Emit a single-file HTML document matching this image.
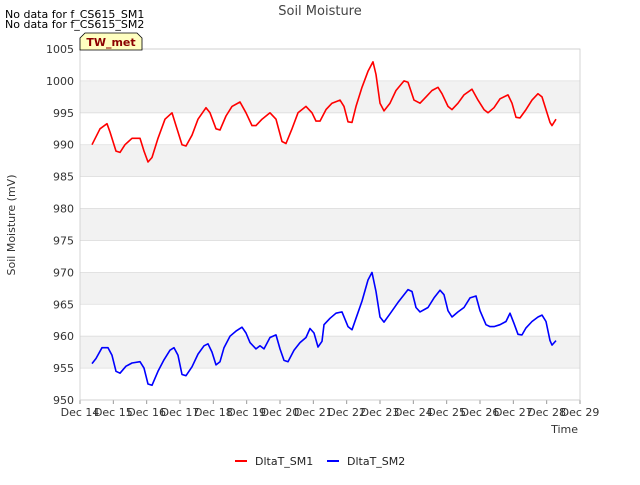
<!DOCTYPE html>
<html><head><meta charset="utf-8"><style>
body{margin:0;background:#fff;font-family:"Liberation Sans",sans-serif;}
svg text{font-family:"DejaVu Sans","Liberation Sans",sans-serif;}
</style></head><body>
<svg id="c" width="640" height="480" xmlns="http://www.w3.org/2000/svg">
<text x="320" y="15" text-anchor="middle" font-size="13" fill="#444">Soil Moisture</text>
<text x="5" y="18" font-size="11" fill="#000">No data for f_CS615_SM1</text>
<text x="5" y="28" font-size="11" fill="#000">No data for f_CS615_SM2</text>
<g id="plot"></g>
<path d="M80,50 L80,38 L85,33 L137,33 L142,38 L142,50 Z" fill="#ffffc0" stroke="#000" stroke-width="0.8"/>
<text x="111" y="46" text-anchor="middle" font-size="11" font-weight="bold" fill="#8b0000">TW_met</text>
<text x="15" y="225" text-anchor="middle" font-size="11" fill="#333" transform="rotate(-90 15 225)">Soil Moisture (mV)</text>
<text x="578" y="433" text-anchor="end" font-size="11" fill="#333">Time</text>
<g>
<line x1="235" y1="461" x2="247" y2="461" stroke="#f00" stroke-width="2"/>
<text x="255" y="465" font-size="11" fill="#222">DltaT_SM1</text>
<line x1="327" y1="461" x2="339" y2="461" stroke="#00f" stroke-width="2"/>
<text x="347" y="465" font-size="11" fill="#222">DltaT_SM2</text>
</g>
</svg>
<script>
const xTickLabels=["Dec 14","Dec 15","Dec 16","Dec 17","Dec 18","Dec 19","Dec 20","Dec 21","Dec 22","Dec 23","Dec 24","Dec 25","Dec 26","Dec 27","Dec 28","Dec 29"];
const yTicks=[950,955,960,965,970,975,980,985,990,995,1000,1005];
const sm1Days=[14.36,14.6,14.81,14.9,15.08,15.2,15.35,15.56,15.8,15.92,16.04,16.16,16.34,16.55,16.76,16.88,17.06,17.18,17.36,17.54,17.78,17.9,18.08,18.2,18.38,18.56,18.8,18.98,19.16,19.28,19.46,19.7,19.88,20.06,20.18,20.36,20.54,20.78,20.96,21.08,21.2,21.38,21.56,21.8,21.92,22.04,22.16,22.28,22.46,22.64,22.79,22.88,23.0,23.12,23.3,23.48,23.72,23.84,24.02,24.2,24.38,24.56,24.74,24.86,25.04,25.16,25.34,25.52,25.76,25.94,26.12,26.24,26.42,26.6,26.84,26.96,27.08,27.2,27.38,27.56,27.74,27.86,27.98,28.1,28.16,28.28];
const sm1Vals=[990,992.5,993.3,992,989,988.8,990,991,991,989,987.3,988,991,994,995,993,990,989.8,991.5,994,995.8,995,992.5,992.3,994.5,996,996.7,995,993,993,994,995,994,990.5,990.2,992.5,995,996,995,993.7,993.7,995.5,996.5,997,996,993.6,993.5,996,999,1001.5,1003,1001,996.5,995.3,996.5,998.5,1000,999.8,997,996.5,997.5,998.5,999,998,996,995.5,996.5,997.8,998.7,997,995.5,995,995.8,997.2,997.8,996.5,994.3,994.2,995.5,997,998,997.5,995.5,993.5,993,994];
const sm2Days=[14.36,14.48,14.66,14.84,14.96,15.08,15.2,15.38,15.56,15.8,15.92,16.04,16.16,16.34,16.52,16.7,16.82,16.94,17.06,17.18,17.36,17.54,17.72,17.84,17.96,18.08,18.2,18.32,18.5,18.68,18.86,18.98,19.1,19.28,19.4,19.52,19.7,19.88,20.0,20.12,20.24,20.42,20.6,20.78,20.9,21.02,21.14,21.26,21.32,21.5,21.68,21.86,22.04,22.16,22.28,22.46,22.64,22.76,22.88,23.0,23.12,23.3,23.54,23.72,23.84,23.96,24.08,24.2,24.44,24.62,24.8,24.92,25.04,25.16,25.34,25.52,25.7,25.88,26.0,26.18,26.3,26.42,26.6,26.78,26.9,27.02,27.14,27.26,27.38,27.56,27.74,27.86,27.98,28.1,28.16,28.28];
const sm2Vals=[955.7,956.5,958.2,958.2,957,954.5,954.2,955.3,955.8,956,955,952.5,952.3,954.5,956.3,957.8,958.2,957,954,953.8,955.2,957.2,958.5,958.8,957.5,955.5,956,958.2,960,960.8,961.4,960.5,959,958,958.5,958,959.8,960.2,958,956.2,956,957.8,959,959.8,961.2,960.5,958.3,959.2,961.8,962.8,963.6,963.8,961.5,961,962.8,965.5,968.8,970,967,963,962.2,963.5,965.3,966.5,967.3,967,964.5,963.8,964.5,966,967.2,966.5,964,963,963.8,964.5,966,966.3,964,961.8,961.5,961.5,961.8,962.3,963.6,962,960.3,960.2,961.3,962.3,963,963.3,962.3,959.3,958.6,959.3];
const L=80,R=580,T=49,B=400,D0=14,D1=29,V0=950,V1=1005;
const xs=d=>L+(d-D0)/(D1-D0)*(R-L);
const ys=v=>B-(v-V0)/(V1-V0)*(B-T);
const NS="http://www.w3.org/2000/svg";
const g=document.getElementById('plot');
function mk(t,a){const e=document.createElementNS(NS,t);for(const k in a)e.setAttribute(k,a[k]);g.appendChild(e);return e;}
for(let i=0;i<yTicks.length-1;i++){
  if(i%2===1){const r=mk('rect',{x:L,y:ys(yTicks[i+1]),width:R-L,height:ys(yTicks[i])-ys(yTicks[i+1]),fill:'#f2f2f2'});
  
  }
}
yTicks.forEach(v=>{
  const l=mk('line',{x1:L,x2:R,y1:ys(v),y2:ys(v),stroke:'#ddd','stroke-width':0.8});
  
  
  const t=mk('text',{x:L-6,y:ys(v)+4,'text-anchor':'end','font-size':11,fill:'#333'});
  t.textContent=v;
  
  
});
xTickLabels.forEach((s,i)=>{
  const x=xs(D0+i);
  const tk=mk('line',{x1:x,x2:x,y1:B,y2:B+4,stroke:'#999'});
  
  
  const t=mk('text',{x:x,y:B+16,'text-anchor':'middle','font-size':11,fill:'#333'});
  t.textContent=s;
  
  
});
const fr=mk('rect',{x:L,y:T,width:R-L,height:B-T,fill:'none',stroke:'#ccc','stroke-width':0.8});


function line(ds,vs,c,n){
  const p=mk('polyline',{points:ds.map((d,i)=>xs(d).toFixed(1)+','+ys(vs[i]).toFixed(1)).join(' '),fill:'none',stroke:c,'stroke-width':1.6,'stroke-linejoin':'round'});
  
  
}
line(sm1Days,sm1Vals,'#f00','series-dltat-sm1');
line(sm2Days,sm2Vals,'#00f','series-dltat-sm2');
</script>
</body></html>
